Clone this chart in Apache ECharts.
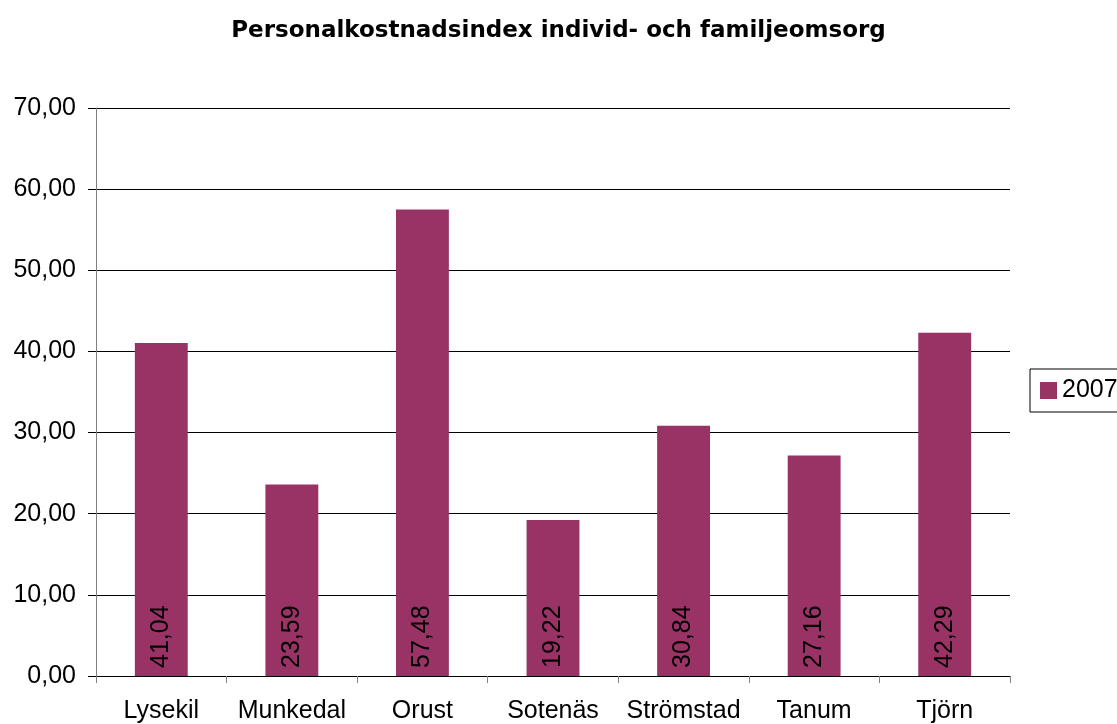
<!DOCTYPE html>
<html>
<head>
<meta charset="utf-8">
<script src="https://cdn.jsdelivr.net/npm/echarts@6/dist/echarts.min.js"></script>
<style>
  html, body { margin: 0; padding: 0; background: #fff; }
  #chart { width: 1117px; height: 724px; }
</style>
</head>
<body>
<div id="chart"></div>
<script>
var municipalities = ['Lysekil', 'Munkedal', 'Orust', 'Sotenäs', 'Strömstad', 'Tanum', 'Tjörn'];
var values2007 = [41.04, 23.59, 57.48, 19.22, 30.84, 27.16, 42.29];

function sv(v) { return v.toFixed(2).replace('.', ','); }

var chart = echarts.init(document.getElementById('chart'));
chart.setOption({
  animation: false,
  textStyle: { fontFamily: 'Liberation Sans, Arial, sans-serif' },
  title: {
    text: 'Personalkostnadsindex individ- och familjeomsorg',
    left: 'center',
    top: 15,
    textStyle: { fontSize: 23, fontWeight: 'bold', color: '#000', fontFamily: 'DejaVu Sans' }
  },
  legend: {
    data: ['2007'],
    orient: 'vertical',
    left: 1030,
    top: 369,
    padding: [9, 10, 9, 10],
    borderColor: '#000',
    borderWidth: 1,
    icon: 'rect',
    itemWidth: 17,
    itemHeight: 17,
    itemGap: 5,
    textStyle: { fontSize: 25, color: '#000' }
  },
  grid: { left: 96, right: 107, top: 108, bottom: 48 },
  xAxis: {
    type: 'category',
    data: municipalities,
    axisLine: { lineStyle: { color: '#000', width: 1 } },
    axisTick: { show: true, interval: 0, length: 7, lineStyle: { color: '#808080' } },
    axisLabel: { interval: 0, fontSize: 25, color: '#000', margin: 23 }
  },
  yAxis: {
    type: 'value',
    min: 0,
    max: 70,
    interval: 10,
    axisLine: { show: true, lineStyle: { color: '#808080' } },
    axisTick: { show: true, length: 8, lineStyle: { color: '#000' } },
    axisLabel: { fontSize: 25, color: '#000', margin: 20, formatter: function (v) { return sv(v); } },
    splitLine: { lineStyle: { color: '#000', width: 1 } }
  },
  series: [{
    name: '2007',
    type: 'bar',
    data: values2007,
    barWidth: '40.5%',
    itemStyle: { color: '#993366' },
    label: {
      show: true,
      position: 'insideBottom',
      rotate: 90,
      align: 'left',
      verticalAlign: 'middle',
      distance: 8,
      fontSize: 25,
      color: '#000',
      formatter: function (p) { return sv(p.value); }
    }
  }]
});
</script>
</body>
</html>
